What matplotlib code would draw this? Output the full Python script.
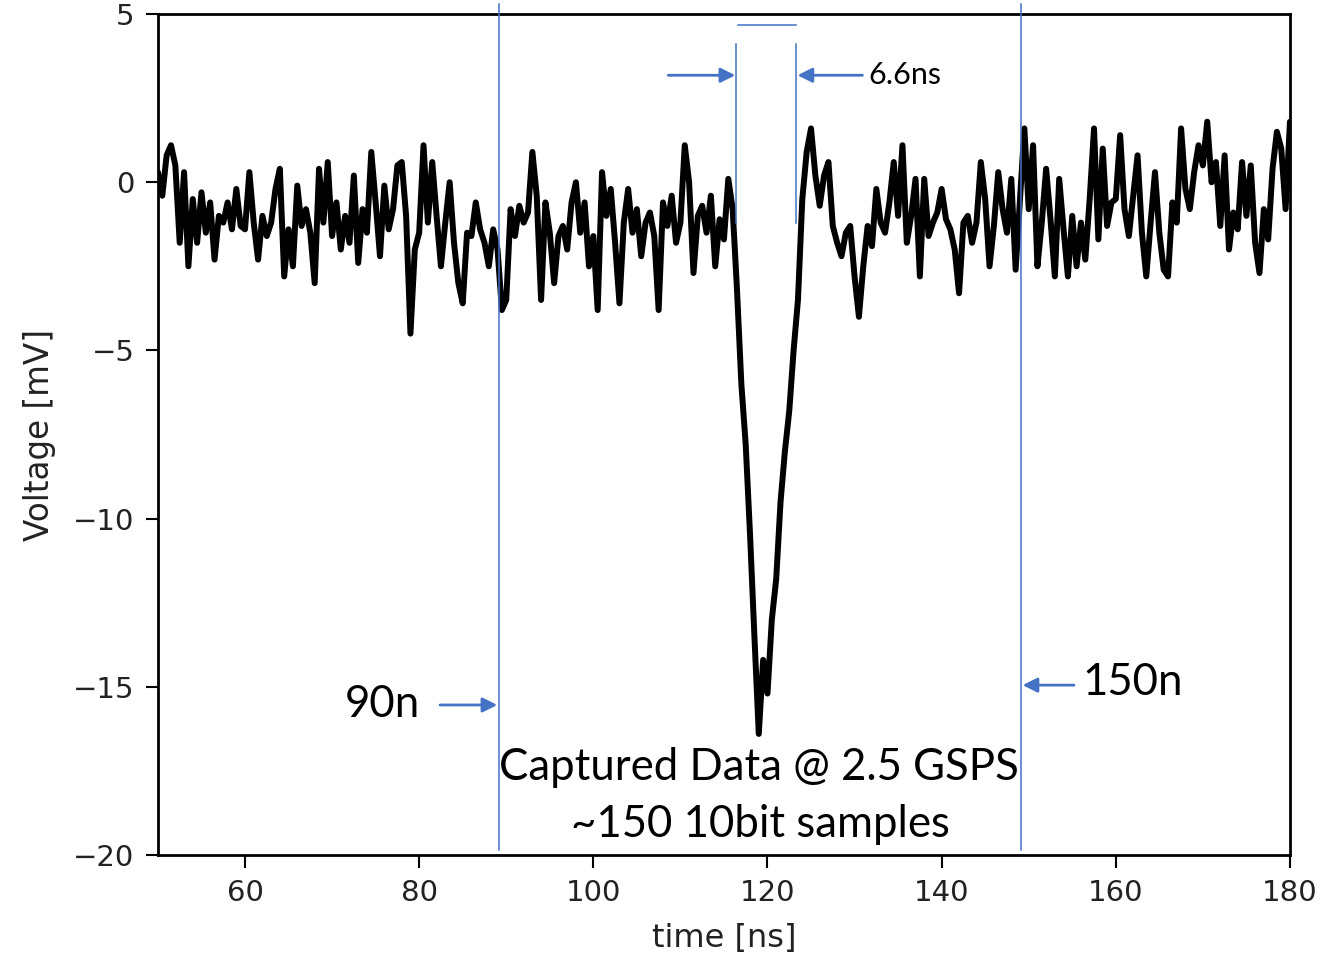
import numpy as np
import matplotlib
matplotlib.use("Agg")
import matplotlib.pyplot as plt

# captured trace, one value every 0.5 ns starting at 50 ns (mV)
v_50_60 = [0.3, -0.4, 0.8, 1.1, 0.5, -1.8, 0.3, -2.5, -0.5, -1.8,
           -0.3, -1.5, -0.6, -2.3, -1.0, -1.2, -0.6, -1.4, -0.2, -1.3]
v_60_70 = [-1.4, 0.3, -1.2, -2.3, -1.0, -1.6, -1.2, -0.2, 0.4, -2.8,
           -1.4, -2.5, -0.1, -1.3, -0.8, -1.5, -3.0, 0.4, -1.2, 0.6]
v_70_80 = [-1.6, -0.6, -2.0, -1.0, -1.8, 0.2, -2.4, -0.8, -1.5, 0.9,
           -0.6, -2.2, -0.1, -1.4, -0.8, 0.5, 0.6, -1.0, -4.5, -2.0]
v_80_90 = [-1.5, 1.1, -1.2, 0.6, -1.0, -2.5, -1.2, 0.0, -1.8, -3.0,
           -3.6, -1.5, -1.6, -0.6, -1.4, -1.8, -2.5, -1.4, -2.0, -3.8]
v_90_100 = [-3.5, -0.8, -1.6, -0.7, -1.2, -0.9, 0.9, -0.4, -3.5, -0.6,
            -1.5, -3.0, -1.6, -1.3, -2.0, -0.6, 0.0, -1.5, -0.6, -2.5]
v_100_110 = [-1.6, -3.8, 0.3, -1.0, -0.2, -1.8, -3.6, -1.2, -0.2, -1.5,
             -0.8, -2.2, -1.2, -0.9, -1.6, -3.8, -0.6, -1.3, -0.4, -1.8]
v_110_116 = [-1.2, 1.1, 0.0, -2.7, -1.0, -0.7, -1.5, -0.4, -2.5, -1.1,
             -1.7, 0.1, -0.8]
v_pulse = [-3.2, -6.0, -7.8, -10.5, -13.5, -16.4, -14.2, -15.2, -13.0,
           -11.8, -9.5, -8.0, -6.8, -5.0, -3.5, -0.5, 0.9, 1.6]
v_125_130 = [0.2, -0.7, 0.2, 0.6, -1.3, -1.8, -2.2, -1.5, -1.3, -2.8, -4.0]
v_131_150 = [-2.5, -1.3, -1.9, -0.2, -1.2, -1.5, -0.6, 0.6, -1.0, 1.1,
             -1.8, -1.0, 0.1, -2.8, 0.1, -1.6, -1.2, -0.9, -0.2, -1.1,
             -1.4, -2.0, -3.3, -1.2, -1.0, -1.8, -1.2, 0.6, -0.5, -2.5,
             -1.3, 0.3, -0.8, -1.5, 0.1, -2.6, -0.5, 1.6]
v_150_160 = [-0.8, 1.1, -2.5, -1.2, 0.4, -1.1, -2.8, 0.1, -1.4, -2.8,
             -1.0, -2.5, -1.2, -2.3, -0.5, 1.6, -1.7, 1.0, -1.3, -0.6]
v_160_170 = [-0.5, 1.4, -0.8, -1.6, -0.4, 0.8, -1.5, -2.8, -1.2, 0.3,
             -1.5, -2.6, -2.8, -0.6, -1.2, 1.6, -0.2, -0.8, 0.3, 1.1]
v_170_180 = [0.5, 1.8, 0.0, 0.6, -1.3, 0.8, -2.0, -0.9, -1.4, 0.6,
             -1.0, 0.5, -1.8, -2.7, -0.8, -1.7, 0.4, 1.5, 1.0, -0.8, 1.8]

voltage = np.array(v_50_60 + v_60_70 + v_70_80 + v_80_90 + v_90_100 + v_100_110
                   + v_110_116 + v_pulse + v_125_130 + v_131_150 + v_150_160
                   + v_160_170 + v_170_180)
t_start, t_step = 50.0, 0.5
time_ns = t_start + t_step * np.arange(len(voltage))

x_ticks = [60, 80, 100, 120, 140, 160, 180]
y_ticks = [5, 0, -5, -10, -15, -20]

# overlay annotations (data units)
window_x = [89.2, 149.1]
window_y = [5.3, -19.85]
width_x = [116.4, 123.3]
width_y = [4.1, -1.2]
width_top_y = 4.67
width_label = "6.6ns"
left_tags = ["90n", "150n"]
caption = ["Captured Data @ 2.5 GSPS", "~150 10bit samples"]

blue = "#4472C4"
note_font = ["Lato", "DejaVu Sans"]

fig = plt.figure(figsize=(13.43, 9.55), dpi=100)
ax = fig.add_axes([0.1176, 0.1047, 0.8429, 0.8806])

ax.plot(time_ns, voltage, color="black", lw=4.3, zorder=2,
        solid_joinstyle="round", solid_capstyle="round")

ax.set_xlim(50, 180)
ax.set_ylim(-20, 5)
ax.set_xticks(x_ticks)
ax.set_yticks(y_ticks)
ax.tick_params(labelsize=21, length=9, width=1.5, pad=8, labelcolor="#222222")
for s in ax.spines.values():
    s.set_linewidth(2)
ax.set_xlabel("time [ns]", fontsize=23, color="#222222", labelpad=12)
ax.set_ylabel("Voltage [mV]", fontsize=23.5, color="#222222", labelpad=12)

# window lines
for wx in window_x:
    ax.plot([wx, wx], window_y, color=blue, lw=1.1, clip_on=False, zorder=3)

# pulse width bracket
for wx in width_x:
    ax.plot([wx, wx], width_y, color=blue, lw=1.1, zorder=3)
ax.plot([width_x[0] + 0.2, width_x[1]], [width_top_y, width_top_y], color=blue, lw=1.1, zorder=3)

arrow = dict(arrowstyle="-|>", color=blue, lw=2, mutation_scale=22, shrinkA=0, shrinkB=0)
ax.annotate("", xy=(116.3, 3.18), xytext=(108.6, 3.18), arrowprops=arrow)
ax.annotate("", xy=(123.45, 3.18), xytext=(130.9, 3.18), arrowprops=arrow)
ax.text(131.6, 3.18, width_label, fontsize=22, family=note_font, va="center", ha="left")

# window labels
ax.annotate("", xy=(88.97, -15.54), xytext=(82.4, -15.54), arrowprops=arrow)
ax.text(75.75, -15.54, left_tags[0], fontsize=31.5, family=note_font, va="center", ha="center")
ax.annotate("", xy=(149.3, -14.95), xytext=(155.2, -14.95), arrowprops=arrow)
ax.text(161.95, -14.86, left_tags[1], fontsize=31.5, family=note_font, va="center", ha="center")

ax.text(118.97, -17.41, caption[0], fontsize=31.5, family=note_font, va="center", ha="center")
ax.text(119.2, -19.1, caption[1], fontsize=31.5, family=note_font, va="center", ha="center")

fig.savefig("out.png", dpi=100)
